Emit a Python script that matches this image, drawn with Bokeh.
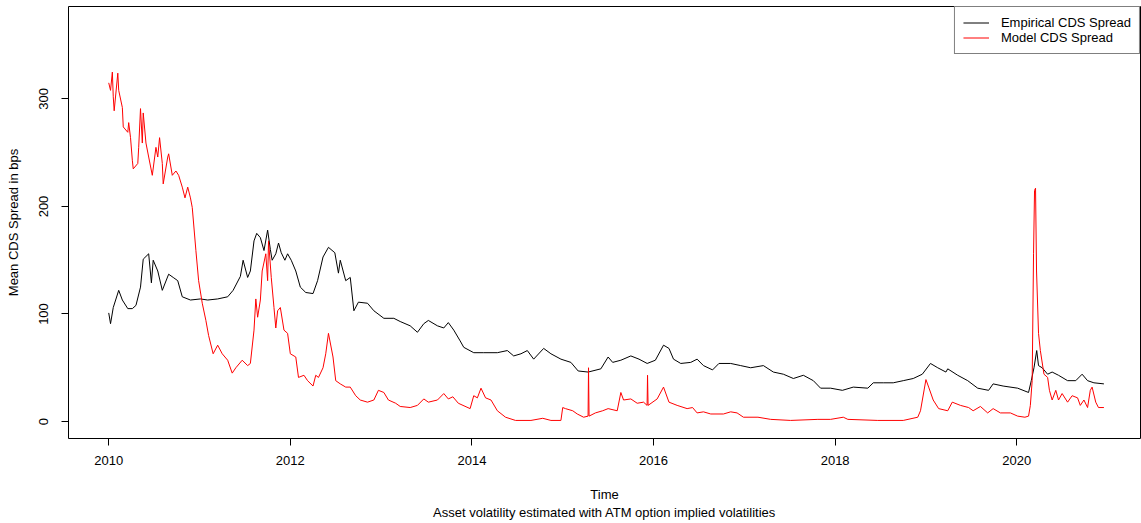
from bokeh.plotting import figure
from bokeh.models import FixedTicker, Range1d, Legend, LegendItem, Title, NumeralTickFormatter
from bokeh.embed import file_html
from bokeh.resources import INLINE

# Empirical CDS spread (decimal year, bps)
emp_t = [2010.00, 2010.02, 2010.05, 2010.11, 2010.15, 2010.21, 2010.26, 2010.30, 2010.35, 2010.38,
         2010.44, 2010.47, 2010.49, 2010.54, 2010.59, 2010.66, 2010.71, 2010.76, 2010.81, 2010.90,
         2011.01, 2011.09, 2011.20, 2011.31, 2011.37, 2011.45, 2011.48, 2011.53, 2011.56, 2011.60,
         2011.63, 2011.67, 2011.71, 2011.75, 2011.78, 2011.80, 2011.84, 2011.87, 2011.90, 2011.94,
         2011.97, 2012.01, 2012.06, 2012.11, 2012.17, 2012.25, 2012.30, 2012.36, 2012.42, 2012.49,
         2012.53, 2012.55, 2012.61, 2012.66, 2012.70, 2012.75, 2012.85, 2012.92, 2013.03, 2013.14,
         2013.21, 2013.32, 2013.40, 2013.47, 2013.52, 2013.62, 2013.69, 2013.74, 2013.80, 2013.87,
         2013.91, 2014.02, 2014.13, 2014.28, 2014.39, 2014.46, 2014.54, 2014.61, 2014.68, 2014.79,
         2014.87, 2014.98, 2015.09, 2015.17, 2015.28, 2015.42, 2015.50, 2015.55, 2015.64, 2015.75,
         2015.84, 2015.93, 2016.02, 2016.11, 2016.17, 2016.22, 2016.30, 2016.41, 2016.48, 2016.55,
         2016.65, 2016.72, 2016.85, 2016.96, 2017.07, 2017.21, 2017.32, 2017.43, 2017.54, 2017.65,
         2017.76, 2017.84, 2017.95, 2018.08, 2018.20, 2018.36, 2018.42, 2018.53, 2018.64, 2018.75,
         2018.86, 2018.96, 2019.05, 2019.13, 2019.22, 2019.24, 2019.35, 2019.46, 2019.57, 2019.69,
         2019.74, 2019.85, 2020.01, 2020.13, 2020.16, 2020.19, 2020.22, 2020.24, 2020.28, 2020.34,
         2020.39, 2020.46, 2020.56, 2020.65, 2020.72, 2020.78, 2020.85, 2020.96]
emp_v = [101, 91, 106, 122, 113, 105, 105, 108, 125, 151,
         156, 129, 150, 140, 122, 137, 134, 131, 116, 113,
         114, 113, 114, 116, 122, 135, 150, 134, 140, 168,
         175, 171, 159, 178, 160, 150, 156, 166, 157, 150,
         156, 150, 140, 125, 120, 119, 131, 153, 162, 157,
         138, 150, 131, 134, 103, 111, 110, 103, 96, 96,
         93, 89, 83, 91, 94, 89, 87, 92, 85, 75,
         69, 64, 64, 64, 66, 61, 63, 66, 58, 68,
         63, 58, 55, 47, 46, 49, 60, 55, 57, 61,
         58, 54, 57, 71, 68, 58, 54, 55, 58, 52,
         48, 54, 54, 52, 50, 52, 46, 44, 40, 43,
         38, 31, 31, 29, 32, 31, 36, 36, 36, 38,
         40, 44, 54, 50, 46, 49, 43, 38, 31, 29,
         35, 33, 31, 27, 38, 50, 66, 52, 50, 44,
         46, 43, 38, 38, 44, 38, 36, 35]

# Model CDS spread (decimal year, bps)
mod_t = [2010.00, 2010.02, 2010.04, 2010.05, 2010.06, 2010.10, 2010.11, 2010.15, 2010.16, 2010.21,
         2010.22, 2010.24, 2010.26, 2010.27, 2010.32, 2010.33, 2010.35, 2010.37, 2010.38, 2010.41,
         2010.44, 2010.48, 2010.52, 2010.54, 2010.56, 2010.59, 2010.60, 2010.65, 2010.66, 2010.70,
         2010.74, 2010.77, 2010.81, 2010.84, 2010.87, 2010.90, 2010.92, 2010.96, 2010.99, 2011.03,
         2011.07, 2011.10, 2011.15, 2011.20, 2011.25, 2011.31, 2011.36, 2011.40, 2011.47, 2011.53,
         2011.56, 2011.60, 2011.62, 2011.64, 2011.67, 2011.69, 2011.73, 2011.75, 2011.76, 2011.79,
         2011.82, 2011.84, 2011.86, 2011.89, 2011.93, 2011.97, 2012.00, 2012.06, 2012.09, 2012.15,
         2012.19, 2012.25, 2012.28, 2012.31, 2012.36, 2012.39, 2012.42, 2012.47, 2012.50, 2012.55,
         2012.61, 2012.66, 2012.72, 2012.77, 2012.85, 2012.92, 2012.97, 2013.03, 2013.08, 2013.16,
         2013.21, 2013.32, 2013.40, 2013.47, 2013.52, 2013.62, 2013.69, 2013.74, 2013.79, 2013.85,
         2013.98, 2014.02, 2014.06, 2014.10, 2014.15, 2014.21, 2014.28, 2014.37, 2014.48, 2014.65,
         2014.78, 2014.87, 2014.98, 2015.00, 2015.03, 2015.11, 2015.16, 2015.23, 2015.279, 2015.284,
         2015.29, 2015.36, 2015.44, 2015.50, 2015.60, 2015.64, 2015.67, 2015.75, 2015.82, 2015.89,
         2015.929, 2015.934, 2015.94, 2016.04, 2016.11, 2016.17, 2016.26, 2016.37, 2016.43, 2016.48,
         2016.55, 2016.63, 2016.77, 2016.85, 2016.92, 2016.99, 2017.15, 2017.29, 2017.51, 2017.81,
         2017.95, 2018.09, 2018.14, 2018.47, 2018.75, 2018.91, 2018.94, 2019.00, 2019.03, 2019.08,
         2019.14, 2019.24, 2019.29, 2019.38, 2019.47, 2019.52, 2019.60, 2019.68, 2019.74, 2019.82,
         2019.93, 2020.01, 2020.09, 2020.13, 2020.15, 2020.17, 2020.185, 2020.196, 2020.207, 2020.218,
         2020.24, 2020.26, 2020.30, 2020.34, 2020.36, 2020.39, 2020.43, 2020.46, 2020.50, 2020.56,
         2020.61, 2020.67, 2020.70, 2020.74, 2020.78, 2020.81, 2020.83, 2020.87, 2020.90, 2020.96]
mod_v = [315, 308, 325, 302, 289, 324, 308, 292, 274, 269,
         278, 264, 243, 235, 240, 255, 291, 259, 287, 259,
         246, 229, 255, 246, 264, 240, 221, 246, 249, 229,
         233, 229, 218, 208, 218, 208, 199, 159, 131, 110,
         94, 80, 63, 71, 63, 57, 45, 50, 57, 52,
         54, 85, 114, 97, 113, 140, 156, 131, 168, 134,
         106, 87, 103, 106, 85, 82, 63, 60, 41, 43,
         38, 33, 43, 41, 50, 63, 82, 60, 38, 35,
         32, 32, 24, 20, 18, 20, 29, 27, 20, 17,
         14, 13, 15, 21, 18, 20, 26, 21, 23, 17,
         12, 24, 22, 31, 22, 20, 10, 4, 1, 1,
         3, 1, 1, 13, 12, 10, 7, 4, 5, 50,
         5, 8, 10, 12, 10, 27, 20, 21, 17, 18,
         15, 43, 15, 21, 32, 18, 15, 12, 13, 8,
         9, 7, 7, 9, 8, 4, 4, 2, 1, 2,
         2, 4, 2, 1, 1, 4, 10, 39, 32, 20,
         12, 10, 18, 15, 13, 10, 14, 8, 12, 8,
         8, 5, 4, 5, 15, 38, 156, 215, 217, 140,
         82, 66, 44, 41, 29, 20, 29, 20, 26, 18,
         24, 22, 15, 20, 13, 29, 32, 18, 13, 13]

x_ticks = [2010, 2012, 2014, 2016, 2018, 2020]
y_ticks = [0, 100, 200, 300]

FONT = "Liberation Sans"

p = figure(width=1141, height=523, output_backend="svg", toolbar_location=None,
           x_range=Range1d(2009.557, 2021.363), y_range=Range1d(-15.8, 386.0),
           min_border_left=68, min_border_right=1, min_border_top=6, min_border_bottom=85)
p.background_fill_color = "white"
p.border_fill_color = "white"
p.outline_line_color = "black"
p.outline_line_width = 1
p.outline_line_alpha = 1
p.xgrid.visible = False
p.ygrid.visible = False

r1 = p.line(emp_t, emp_v, line_color="black", line_width=1)
r2 = p.line(mod_t, mod_v, line_color="#FF0000", line_width=1)

for ax in (p.xaxis[0], p.yaxis[0]):
    ax.axis_line_color = None
    ax.minor_tick_line_color = None
    ax.major_tick_in = 0
    ax.major_tick_out = 7
    ax.major_tick_line_color = "black"
    ax.major_label_text_font = FONT
    ax.major_label_text_font_size = "13px"
    ax.major_label_text_color = "black"
    ax.axis_label_text_font = FONT
    ax.axis_label_text_font_size = "13px"
    ax.axis_label_text_font_style = "normal"
    ax.axis_label_text_color = "black"
    ax.formatter = NumeralTickFormatter(format="0")

p.xaxis[0].ticker = FixedTicker(ticks=x_ticks)
p.yaxis[0].ticker = FixedTicker(ticks=y_ticks)
p.yaxis[0].major_label_orientation = "parallel"
p.xaxis[0].major_label_standoff = 10
p.yaxis[0].major_label_standoff = 13
p.xaxis[0].axis_label = "Time"
p.xaxis[0].axis_label_standoff = 19
p.yaxis[0].axis_label = "Mean CDS Spread in bps"
p.yaxis[0].axis_label_standoff = 16

sub = Title(text="Asset volatility estimated with ATM option implied volatilities",
            align="center", vertical_align="top", text_font=FONT, text_font_size="13px",
            text_font_style="normal", text_color="black", standoff=0)
p.add_layout(sub, "below")

legend = Legend(items=[LegendItem(label="Empirical CDS Spread", renderers=[r1]),
                       LegendItem(label="Model CDS Spread", renderers=[r2])],
                location="top_right", margin=0, padding=8, spacing=0,
                label_height=15, glyph_height=15, glyph_width=26, label_standoff=12,
                border_line_color="black", border_line_width=1,
                background_fill_color="white", background_fill_alpha=1,
                label_text_font=FONT, label_text_font_size="13px", label_text_color="black")
p.add_layout(legend)

open("out.html", "w").write(file_html(p, INLINE))
